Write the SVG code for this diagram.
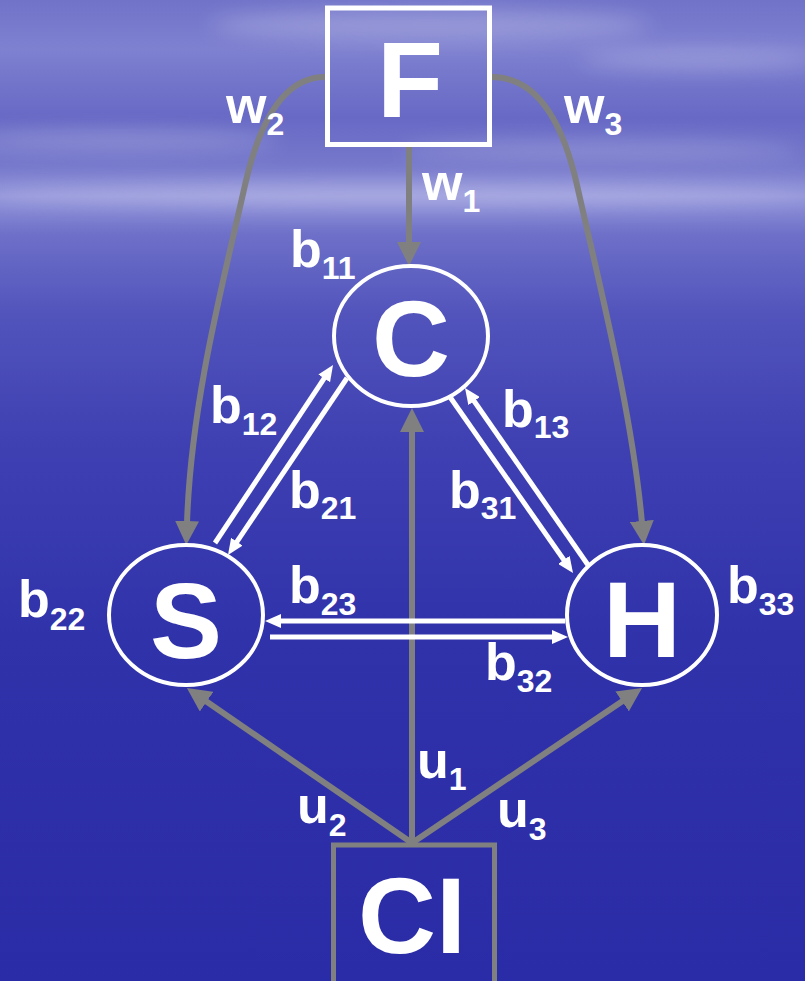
<svg xmlns="http://www.w3.org/2000/svg" width="805" height="981" viewBox="0 0 805 981">
<defs>
  <linearGradient id="bg" x1="0" y1="0" x2="0" y2="1">
    <stop offset="0" stop-color="#7173c9"/>
    <stop offset="0.05" stop-color="#7e80d0"/>
    <stop offset="0.12" stop-color="#6769c5"/>
    <stop offset="0.17" stop-color="#7779cc"/>
    <stop offset="0.2" stop-color="#9294da"/>
    <stop offset="0.24" stop-color="#6d6fc8"/>
    <stop offset="0.32" stop-color="#5254bc"/>
    <stop offset="0.45" stop-color="#3f40b2"/>
    <stop offset="0.65" stop-color="#3032aa"/>
    <stop offset="1" stop-color="#2a2ba6"/>
  </linearGradient>
  <filter id="soft" x="-20%" y="-200%" width="140%" height="500%">
    <feGaussianBlur stdDeviation="10"/>
  </filter>
  <marker id="ag" markerUnits="userSpaceOnUse" markerWidth="24" markerHeight="24" refX="2" refY="12" orient="auto">
    <path d="M0,0 L24,12 L0,24 z" fill="#808080"/>
  </marker>
  <marker id="aw" markerUnits="userSpaceOnUse" markerWidth="16" markerHeight="14" refX="2" refY="7" orient="auto">
    <path d="M0,0 L16,7 L0,14 z" fill="#ffffff"/>
  </marker>
</defs>
<style>
  .g { fill: none; stroke: #808080; stroke-width: 6; marker-end: url(#ag); }
  .w { fill: none; stroke: #ffffff; stroke-width: 5; marker-end: url(#aw); }
  .node { fill: none; stroke: #ffffff; stroke-width: 4; }
  .big { font-family: "Liberation Sans", Arial, sans-serif; font-weight: bold; font-size: 108px; fill: #ffffff; text-anchor: middle; }
  .lbl { font-family: "Liberation Sans", Arial, sans-serif; font-weight: bold; font-size: 52px; fill: #ffffff; }
  .sub { font-size: 32px; }
</style>
<rect x="0" y="0" width="805" height="981" fill="url(#bg)"/>
<g opacity="0.22" fill="#ffffff" filter="url(#soft)">
  <ellipse cx="430" cy="25" rx="220" ry="16"/>
  <ellipse cx="120" cy="140" rx="160" ry="9"/>
  <ellipse cx="600" cy="150" rx="200" ry="8"/>
  <ellipse cx="400" cy="195" rx="420" ry="12"/>
  <ellipse cx="700" cy="60" rx="120" ry="10"/>
</g>

<g id="connectors">
  <path class="g" d="M409,147 L409,244"/>
  <path class="g" d="M325,77 C290,77 262,110 245,185 C225,275 191,400 187,523"/>
  <path class="g" d="M492,77 C530,77 560,110 577,185 C597,275 632,410 642,523"/>
  <path class="g" d="M412,843 L412,430"/>
  <path class="g" d="M412,843 L205,700.5"/>
  <path class="g" d="M412,843 L623.8,700.3"/>
  <path class="w" d="M215,543 L325.3,376.7"/>
  <path class="w" d="M347,378 L235.8,543.4"/>
  <path class="w" d="M450,397 L565,561.5"/>
  <path class="w" d="M588,565 L473,399.5"/>
  <path class="w" d="M565,621 L279,621"/>
  <path class="w" d="M270,637 L554,637"/>
</g>

<g id="node-F">
  <rect x="327.5" y="8" width="162" height="136.5" fill="none" stroke="#ffffff" stroke-width="5"/>
  <text class="big" x="410" y="117">F</text>
</g>
<g id="node-C">
  <ellipse class="node" cx="411" cy="336" rx="77" ry="70"/>
  <text class="big" x="411" y="376">C</text>
</g>
<g id="node-S">
  <ellipse class="node" cx="186" cy="615" rx="77" ry="70"/>
  <text class="big" x="186" y="658">S</text>
</g>
<g id="node-H">
  <ellipse class="node" cx="642" cy="615" rx="75" ry="70"/>
  <text class="big" x="642" y="657">H</text>
</g>
<g id="node-CI">
  <rect x="333.5" y="845" width="161" height="200" fill="none" stroke="#808080" stroke-width="5"/>
  <text class="big" x="412" y="953">CI</text>
</g>

<g id="labels">
  <text class="lbl" x="226" y="123">w<tspan class="sub" dy="12">2</tspan></text>
  <text class="lbl" x="564" y="123">w<tspan class="sub" dy="12">3</tspan></text>
  <text class="lbl" x="422" y="200">w<tspan class="sub" dy="12">1</tspan></text>
  <text class="lbl" x="290" y="267">b<tspan class="sub" dy="12">11</tspan></text>
  <text class="lbl" x="210" y="423">b<tspan class="sub" dy="12">12</tspan></text>
  <text class="lbl" x="289" y="508">b<tspan class="sub" dy="11">21</tspan></text>
  <text class="lbl" x="502" y="427">b<tspan class="sub" dy="11">13</tspan></text>
  <text class="lbl" x="449" y="508">b<tspan class="sub" dy="11">31</tspan></text>
  <text class="lbl" x="289" y="603">b<tspan class="sub" dy="12">23</tspan></text>
  <text class="lbl" x="485" y="680">b<tspan class="sub" dy="12">32</tspan></text>
  <text class="lbl" x="18" y="617">b<tspan class="sub" dy="13">22</tspan></text>
  <text class="lbl" x="727" y="603">b<tspan class="sub" dy="12">33</tspan></text>
  <text class="lbl" x="417" y="778">u<tspan class="sub" dy="12">1</tspan></text>
  <text class="lbl" x="297" y="823">u<tspan class="sub" dy="13">2</tspan></text>
  <text class="lbl" x="497" y="827">u<tspan class="sub" dy="13">3</tspan></text>
</g>
</svg>
